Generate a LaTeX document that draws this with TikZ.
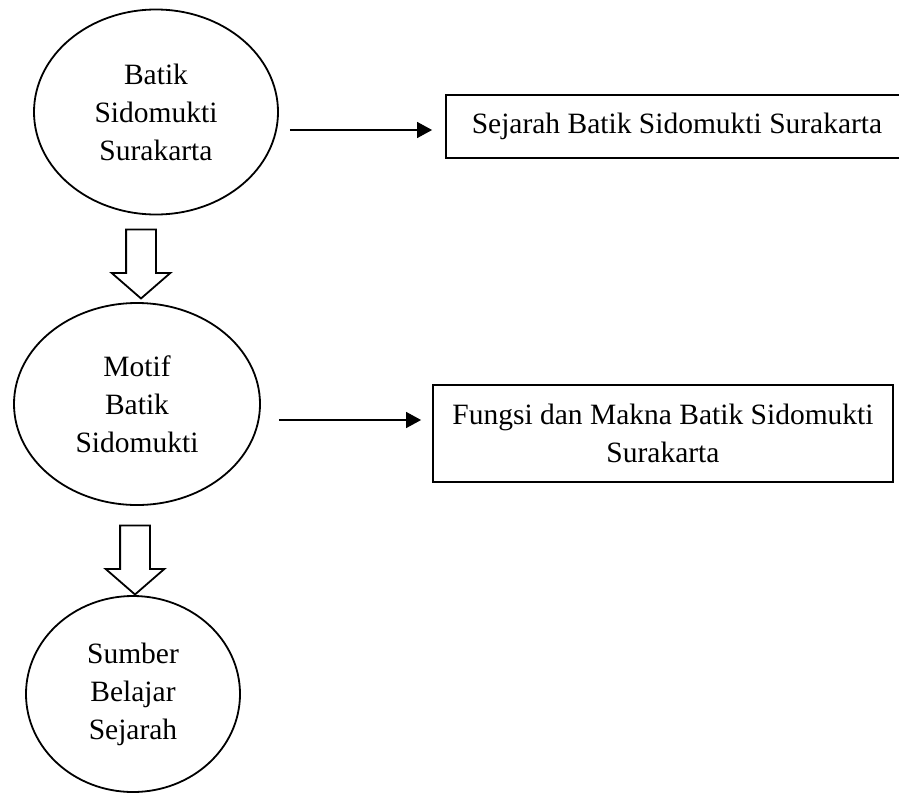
\documentclass[tikz,border=0pt]{standalone}
\usepackage{fontspec}
\setmainfont{Liberation Serif}
\usepackage{tikz}
\usetikzlibrary{shapes.geometric, shapes.arrows, arrows.meta, positioning}
\tikzset{bulat/.style={ellipse,draw,line width=1.8pt,inner sep=0pt,align=center},
  kotak/.style={rectangle,draw,line width=1.8pt,inner sep=0pt,align=center},
  panah/.style={single arrow,draw,line width=1.8pt,rotate=-90,inner xsep=0pt,inner ysep=14pt,
    minimum height=69pt,minimum width=57pt,single arrow head extend=14.5pt,
    single arrow head indent=0pt,single arrow tip angle=98}}

\begin{document}
\begin{tikzpicture}[x=1pt, y=-1pt, >={Triangle[length=15pt,width=16pt]},
    font=\fontsize{29.5}{38}\selectfont]
    \useasboundingbox (0,0) rectangle (899,792);

    % lingkaran di kiri
    \node[bulat, minimum width=244pt, minimum height=205pt] (sidomukti) at (156,112)
      {Batik\\Sidomukti\\Surakarta};
    \node[bulat, minimum width=246pt, minimum height=202pt] (motif) at (137,404)
      {Motif\\Batik\\Sidomukti};
    \node[bulat, minimum width=214pt, minimum height=196pt] (sumber) at (133,694)
      {Sumber\\Belajar\\Sejarah};

    % kotak di kanan
    \node[kotak, minimum width=462pt, minimum height=63pt] (sejarah) at (677,126.5)
      {Sejarah Batik Sidomukti Surakarta};
    \node[kotak, minimum width=460pt, minimum height=97pt] (fungsi) at (663,433.5)
      {Fungsi dan Makna Batik Sidomukti\\Surakarta};

    % panah besar ke bawah
    \node[panah] (arr1) at (141,257.5) {};
    \node[panah] (arr2) at (135,553.5) {};

    \draw[->, line width=1.3pt, shorten >=13pt] (sidomukti.east) ++(11,18) coordinate (a1)
      -- (a1 -| sejarah.west);
    \draw[->, line width=1.3pt, shorten >=11pt] (motif.east) ++(18,16) coordinate (a2)
      -- (a2 -| fungsi.west);
\end{tikzpicture}
\end{document}
